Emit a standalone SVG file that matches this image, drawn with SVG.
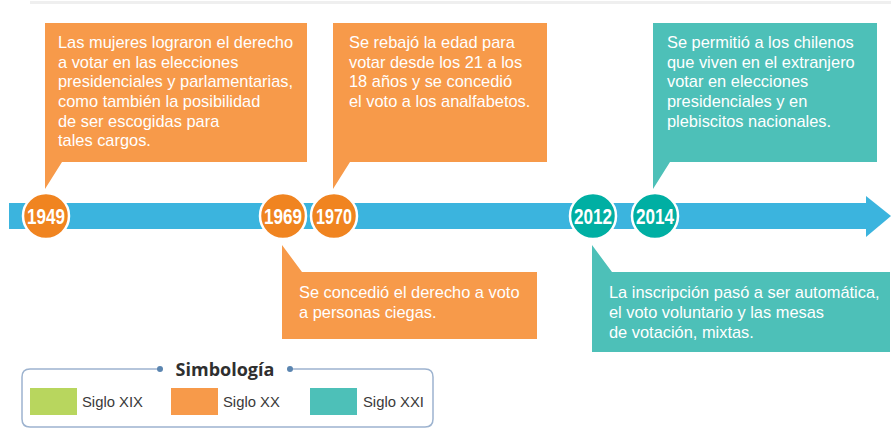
<svg xmlns="http://www.w3.org/2000/svg" width="891" height="433" viewBox="0 0 891 433">
<style>
.txt{font-family:"Liberation Sans",Arial,sans-serif;font-size:16.4px;fill:#ffffff}
.yr{font-family:"Liberation Sans Narrow","Liberation Sans",sans-serif;font-weight:bold;font-size:22px;fill:#ffffff;text-anchor:middle}
.or{fill:#F79A4A}
.tl{fill:#4DC0B8}
.cor{fill:#F08420;stroke:#ffffff;stroke-width:2.5}
.ctl{fill:#00AFA3;stroke:#ffffff;stroke-width:2.5}
.leg{font-family:"Liberation Sans",Arial,sans-serif;font-size:14.8px;fill:#3a3a3a}
</style>
<rect x="30" y="1" width="861" height="3" fill="#efefef"/>
<g id="connectors">
<rect x="9" y="203" width="858" height="26" fill="#3BB4DE"/>
<polygon points="866,196 891,216 866,237" fill="#3BB4DE"/>
</g>
<g id="box1949">
<polygon class="or" points="45,23 307,23 307,162 62,162 45,189"/>
<text class="txt" x="58" y="48">Las mujeres lograron el derecho</text>
<text class="txt" x="58" y="68">a votar en las elecciones</text>
<text class="txt" x="58" y="87">presidenciales y parlamentarias,</text>
<text class="txt" x="58" y="107">como también la posibilidad</text>
<text class="txt" x="58" y="127">de ser escogidas para</text>
<text class="txt" x="58" y="146">tales cargos.</text>
</g>
<g id="box1970">
<polygon class="or" points="333,23 547,23 547,162 350,162 333,189"/>
<text class="txt" x="349" y="48">Se rebajó la edad para</text>
<text class="txt" x="349" y="68">votar desde los 21 a los</text>
<text class="txt" x="349" y="87">18 años y se concedió</text>
<text class="txt" x="349" y="107">el voto a los analfabetos.</text>
</g>
<g id="box2014">
<polygon class="tl" points="653,23 877,23 877,162 670,162 653,189"/>
<text class="txt" x="667" y="48">Se permitió a los chilenos</text>
<text class="txt" x="667" y="68">que viven en el extranjero</text>
<text class="txt" x="667" y="87">votar en elecciones</text>
<text class="txt" x="667" y="107">presidenciales y en</text>
<text class="txt" x="667" y="127">plebiscitos nacionales.</text>
</g>
<g id="box1969">
<polygon class="or" points="282,245 302,272 537,272 537,339 282,339"/>
<text class="txt" x="299" y="298">Se concedió el derecho a voto</text>
<text class="txt" x="299" y="318">a personas ciegas.</text>
</g>
<g id="box2012">
<polygon class="tl" points="592,245 612,272 890,272 890,352 592,352"/>
<text class="txt" x="609" y="298">La inscripción pasó a ser automática,</text>
<text class="txt" x="609" y="318">el voto voluntario y las mesas</text>
<text class="txt" x="609" y="338">de votación, mixtas.</text>
</g>
<g id="y1949"><circle class="cor" cx="46" cy="216" r="23"/><text class="yr" x="46" y="224" textLength="38" lengthAdjust="spacingAndGlyphs">1949</text></g>
<g id="y1969"><circle class="cor" cx="283" cy="216" r="23"/><text class="yr" x="283" y="224" textLength="38" lengthAdjust="spacingAndGlyphs">1969</text></g>
<g id="y1970"><circle class="cor" cx="334" cy="216" r="23"/><text class="yr" x="334" y="224" textLength="36" lengthAdjust="spacingAndGlyphs">1970</text></g>
<g id="y2012"><circle class="ctl" cx="593" cy="216" r="23"/><text class="yr" x="593" y="224" textLength="38" lengthAdjust="spacingAndGlyphs">2012</text></g>
<g id="y2014"><circle class="ctl" cx="655" cy="216" r="23"/><text class="yr" x="655" y="224" textLength="38" lengthAdjust="spacingAndGlyphs">2014</text></g>
<g id="legend">
<path d="M160,369 H30 Q22,369 22,377 V419 Q22,427 30,427 H425 Q433,427 433,419 V377 Q433,369 425,369 H290" fill="none" stroke="#9DB3CF" stroke-width="1.5"/>
<circle cx="160" cy="369" r="3" fill="#5B85B0"/>
<circle cx="290" cy="369" r="3" fill="#5B85B0"/>
<text x="225" y="376" text-anchor="middle" font-family="'Open Sans','Noto Sans',sans-serif" font-weight="bold" font-size="18" fill="#2f2f2f">Simbología</text>
<rect x="30" y="388" width="47" height="27" fill="#B8D65E"/>
<text class="leg" x="82" y="407">Siglo XIX</text>
<rect x="171" y="388" width="47" height="27" fill="#F79A4A"/>
<text class="leg" x="223" y="407">Siglo XX</text>
<rect x="310" y="388" width="47" height="27" fill="#4DC0B8"/>
<text class="leg" x="363" y="407">Siglo XXI</text>
</g>
</svg>
